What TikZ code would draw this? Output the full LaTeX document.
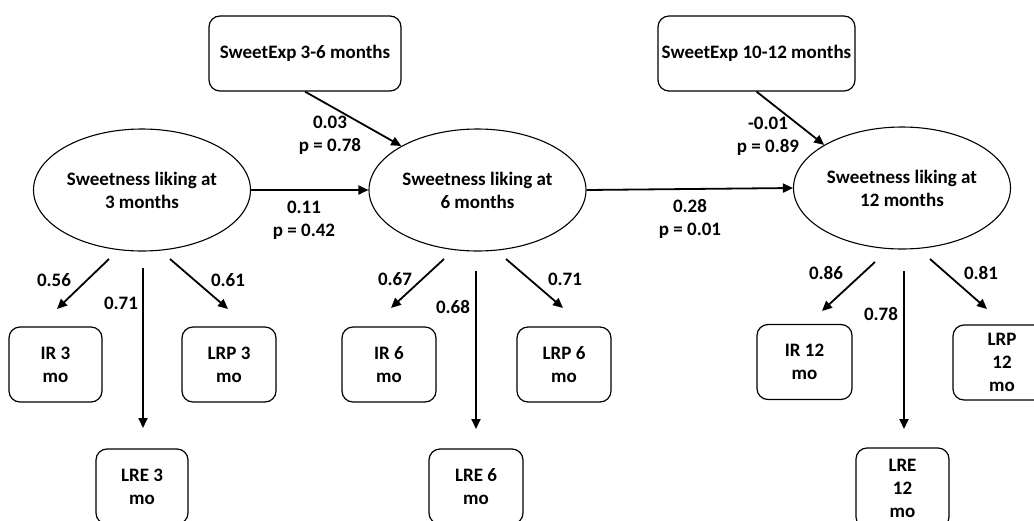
\documentclass[tikz,border=0pt]{standalone}
\usepackage{fontspec}
\setmainfont{Carlito}
\usetikzlibrary{shapes.geometric,arrows.meta}
\begin{document}
\begin{tikzpicture}[x=1pt,y=-1pt,
  every node/.style={font=\bfseries\fontsize{19}{23}\selectfont, align=center, inner sep=0pt},
  latent/.style={draw, ellipse, line width=1.1pt, minimum width=217pt, minimum height=122pt},
  obs/.style={draw, rounded corners=11pt, line width=1.2pt, minimum width=93pt, minimum height=75pt},
  expbox/.style={draw, rounded corners=11pt, line width=1.2pt, minimum height=75pt},
  arr/.style={line width=1.8pt, -{Triangle[length=10pt,width=9pt]}}]
\useasboundingbox (0,0) rectangle (1034,520);
\clip (0,0) rectangle (1034,520);
% latent variables
\node[latent] (e1) at (142,190) {Sweetness liking at\\3 months};
\node[latent] (e2) at (477.5,190) {Sweetness liking at\\6 months};
\node[latent] (e3) at (902,188) {Sweetness liking at\\12 months};
% exposure boxes
\node[expbox, minimum width=192pt] (sx1) at (305,53.5) {SweetExp 3-6 months};
\node[expbox, minimum width=197pt] (sx2) at (756.5,53.5) {SweetExp 10-12 months};
% indicators
\node[obs] (ir3) at (55.5,364.5) {IR 3\\mo};
\node[obs, minimum width=94pt] (lrp3) at (229,364.5) {LRP 3\\mo};
\node[obs, minimum width=92pt] (lre3) at (142,486.5) {LRE 3\\mo};
\node[obs, minimum width=94pt] (ir6) at (389,364.5) {IR 6\\mo};
\node[obs, minimum width=94pt] (lrp6) at (564,364.5) {LRP 6\\mo};
\node[obs, minimum width=94pt] (lre6) at (476,486.5) {LRE 6\\mo};
\node[obs, minimum width=95pt] (ir12) at (804.5,362) {IR 12\\mo};
\node[obs, minimum width=98pt] (lrp12) at (1002,362.5) {LRP\\12\\mo};
\node[obs, minimum width=93pt, minimum height=80pt] (lre12) at (902.5,488) {LRE\\12\\mo};
% structural paths
\draw[arr] (e1.east) -- (e2.west);
\draw[arr] (e2.east) -- (e3.west);
\draw[arr] (sx1.south) -- (e2.150);
\draw[arr] (sx2.south) -- (e3.151);
% measurement path end points
\coordinate (l1s) at (109,259); \coordinate (l1e) at (57,309);
\coordinate (m1s) at (143,268); \coordinate (m1e) at (143,428);
\coordinate (r1s) at (170,259); \coordinate (r1e) at (228,309);
\coordinate (l2s) at (444,259); \coordinate (l2e) at (391,308);
\coordinate (m2s) at (476,271); \coordinate (m2e) at (476,429);
\coordinate (r2s) at (506,259); \coordinate (r2e) at (563,308);
\coordinate (l3s) at (875,262); \coordinate (l3e) at (822,311);
\coordinate (m3s) at (904,271); \coordinate (m3e) at (904,429);
\coordinate (r3s) at (930,259); \coordinate (r3e) at (987,309);
\foreach \a in {l1,m1,r1,l2,m2,r2,l3,m3,r3}
  \draw[arr] (\a s) -- (\a e);
% labels
\node (t1) at (330,135.5) {0.03\\p = 0.78};
\node (t2) at (304,220.5) {0.11\\p = 0.42};
\node (t3) at (768,136) {-0.01\\p = 0.89};
\node (t4) at (690,218.5) {0.28\\p = 0.01};
\node (t5) at (54,280) {0.56};
\node (t6) at (121,303) {0.71};
\node (t7) at (228,280) {0.61};
\node (t8) at (395,279) {0.67};
\node (t9) at (453,307) {0.68};
\node (t10) at (565,279) {0.71};
\node (t11) at (826,273) {0.86};
\node (t12) at (881,314) {0.78};
\node (t13) at (981,273) {0.81};
\end{tikzpicture}
\end{document}
